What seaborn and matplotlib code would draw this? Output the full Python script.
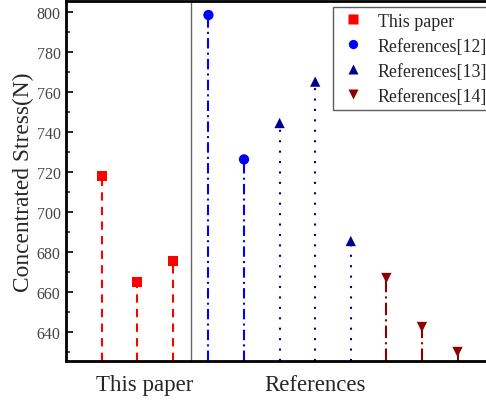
import matplotlib
matplotlib.use("Agg")
import matplotlib.pyplot as plt
import seaborn as sns
import pandas as pd
from matplotlib.ticker import MultipleLocator

sns.set_theme(style="ticks")
plt.rcParams['font.family'] = ['Liberation Serif', 'DejaVu Serif']

groups = ["This paper", "References[12]", "References[13]", "References[14]"]
this_paper = [718, 665, 675.5]
ref12 = [798.5, 726.3]
ref13 = [744.5, 765.2, 685.5]
ref14 = [667, 642.5, 630]
colors = ["#ff0000", "#0000ff", "#00008b", "#8b0000"]
markers = ["s", "o", "^", "v"]
linestyles = [(0, (4, 3)), (0, (5, 2, 1, 2)), (0, (1, 4)), (0, (6, 2, 1, 2))]
xcat_labels = ["This paper", "References"]
xcat_pos = [2.2, 7.0]

rows = []
x = 1
for g, vals in zip(groups, [this_paper, ref12, ref13, ref14]):
    for v in vals:
        rows.append({"x": x, "y": v, "group": g})
        x += 1
df = pd.DataFrame(rows)

fig = plt.figure(figsize=(4.86, 4.02), dpi=100)
ax = fig.add_axes([0.136, 0.0995, 0.864, 0.8955])

ymin, ymax = 625.5, 805.5
for g, c, ls in zip(groups, colors, linestyles):
    sub = df[df.group == g]
    ax.vlines(sub.x, ymin, sub.y, colors=c, linestyles=[ls], linewidth=1.5, zorder=1)

sns.scatterplot(data=df, x="x", y="y", hue="group", style="group",
                palette=dict(zip(groups, colors)), markers=dict(zip(groups, markers)),
                s=55, edgecolor="none", ax=ax, zorder=3)

ax.axvline(3.5, color="#666666", linewidth=1.0)
ax.set_xlim(0, 11.8)
ax.set_ylim(ymin, ymax)
ax.yaxis.set_major_locator(MultipleLocator(20))
ax.yaxis.set_minor_locator(MultipleLocator(10))
ax.tick_params(axis="y", direction="in", length=5, width=1.2, labelsize=11.5, colors="black", labelcolor="#444444", pad=4)
ax.tick_params(axis="y", which="minor", direction="in", length=3, width=1.2)
ax.set_xticks(xcat_pos)
ax.set_xticklabels(xcat_labels, fontsize=16.5)
ax.tick_params(axis="x", length=0, pad=9)
ax.set_xlabel("")
ax.set_ylabel("Concentrated Stress(N)", fontsize=16.8, labelpad=2)
for s in ["left", "bottom", "top"]:
    ax.spines[s].set_linewidth(2)
    ax.spines[s].set_color("black")
ax.spines["right"].set_visible(False)

leg = ax.legend(loc="upper right", bbox_to_anchor=(1.016, 0.983), borderaxespad=0,
                fontsize=12.9, frameon=True,
                fancybox=False, edgecolor="#333333", handletextpad=0.6, borderpad=0.3,
                labelspacing=0.45, markerscale=0.9, handlelength=1.6)
leg.get_frame().set_linewidth(1.0)

fig.savefig("out.png", dpi=100)
